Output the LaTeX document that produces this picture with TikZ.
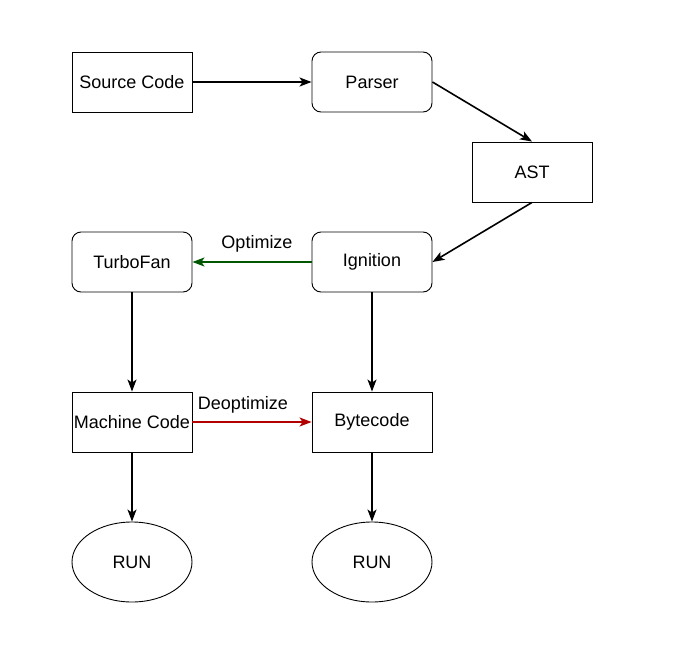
\documentclass[tikz,border=0pt]{standalone}
\usepackage{fontspec}
\setmainfont{Liberation Sans}
\usetikzlibrary{arrows.meta,shapes.geometric}
\definecolor{optgreen}{HTML}{005700}
\definecolor{deored}{HTML}{B20000}
\begin{document}
\begin{tikzpicture}[x=1pt,y=-1pt,
  box/.style={draw,line width=0.9pt,minimum width=120pt,minimum height=60pt,inner sep=0pt,font=\fontsize{18}{21}\selectfont},
  rbox/.style={box,rounded corners=9pt},
  runel/.style={draw,ellipse,line width=0.9pt,minimum width=120pt,minimum height=80pt,inner sep=0pt,font=\fontsize{18}{21}\selectfont},
  conn/.style={line width=1.6pt,-{Stealth[length=12pt,width=9pt,inset=3pt]}},
  lbl/.style={font=\fontsize{18}{21}\selectfont,inner sep=0pt}]
\useasboundingbox (0,0) rectangle (694,648);
\node[box] (src) at (132,82) {Source Code};
\node[rbox] (parser) at (372,82) {Parser};
\node[box] (ast) at (532,172) {AST};
\node[rbox] (turbo) at (132,262) {TurboFan};
\node[rbox] (ign) at (372,262) {Ignition};
\node[box] (mc) at (132,422) {Machine Code};
\node[box] (bc) at (372,422) {Bytecode};
\node[runel] (run1) at (132,562) {RUN};
\node[runel] (run2) at (372,562) {RUN};
\draw[conn] (src) -- (parser);
\draw[conn] (parser.east) -- (ast.north);
\draw[conn] (ast.south) -- (ign.east);
\draw[conn,draw=optgreen,fill=optgreen] (ign) -- node[lbl,above=9pt,text=black,xshift=5pt] (optl) {Optimize} (turbo);
\draw[conn] (turbo) -- (mc);
\draw[conn] (ign) -- (bc);
\draw[conn,draw=deored,fill=deored] (mc) -- node[lbl,above=8pt,text=black,xshift=-9pt] (deol) {Deoptimize} (bc);
\draw[conn] (mc) -- (run1);
\draw[conn] (bc) -- (run2);
\end{tikzpicture}
\end{document}
